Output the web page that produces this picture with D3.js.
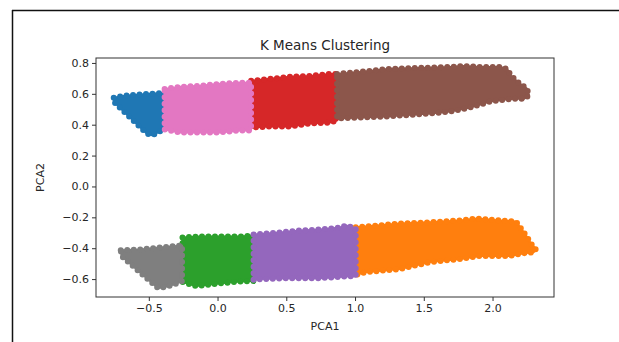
<!DOCTYPE html>
<html><head><meta charset="utf-8">
<script src="https://cdn.jsdelivr.net/npm/d3@7"></script>
<style>body{margin:0;background:#fff}svg{display:block}text{font-family:"DejaVu Sans",sans-serif;fill:#262626}</style>
</head><body><svg id="c" width="619" height="342"></svg>
<script>
const title = "K Means Clustering";
const xLabel = "PCA1", yLabel = "PCA2";
const xTicks = [-0.5, 0.0, 0.5, 1.0, 1.5, 2.0];
const yTicks = [-0.6, -0.4, -0.2, 0.0, 0.2, 0.4, 0.6, 0.8];
const clusterColors = ["#1f77b4","#ff7f0e","#2ca02c","#d62728","#9467bd","#8c564b","#e377c2","#7f7f7f"];
// cluster outlines (PCA1, PCA2)
const blueOutline = [[-0.755,0.575],[-0.673,0.588],[-0.491,0.600],[-0.385,0.606],[-0.382,0.462],[-0.392,0.382],[-0.420,0.356],[-0.476,0.332],[-0.515,0.343],[-0.745,0.540]];
const orangeOutline = [[1.005,-0.265],[1.182,-0.252],[1.327,-0.240],[1.545,-0.232],[1.764,-0.220],[1.887,-0.208],[2.055,-0.220],[2.170,-0.227],[2.205,-0.270],[2.250,-0.326],[2.280,-0.371],[2.315,-0.404],[2.300,-0.426],[2.230,-0.432],[2.127,-0.450],[1.909,-0.450],[1.764,-0.470],[1.545,-0.490],[1.327,-0.535],[1.073,-0.555],[1.005,-0.574]];
const greenOutline = [[-0.255,-0.330],[-0.127,-0.324],[0.018,-0.324],[0.164,-0.324],[0.262,-0.317],[0.262,-0.613],[0.236,-0.613],[0.113,-0.619],[-0.018,-0.632],[-0.156,-0.645],[-0.255,-0.619]];
const redOutline = [[0.244,0.684],[0.382,0.697],[0.527,0.710],[0.673,0.716],[0.818,0.729],[0.869,0.729],[0.869,0.427],[0.818,0.414],[0.673,0.408],[0.527,0.388],[0.382,0.388],[0.244,0.382]];
const purpleOutline = [[0.262,-0.311],[0.455,-0.298],[0.600,-0.285],[0.745,-0.279],[0.891,-0.266],[0.935,-0.253],[1.005,-0.272],[1.005,-0.581],[0.964,-0.581],[0.745,-0.594],[0.527,-0.594],[0.309,-0.600],[0.262,-0.606]];
const brownOutline = [[0.869,0.729],[1.036,0.742],[1.255,0.762],[1.473,0.768],[1.691,0.774],[1.785,0.780],[1.909,0.774],[2.055,0.774],[2.105,0.762],[2.135,0.716],[2.190,0.672],[2.250,0.634],[2.265,0.591],[2.230,0.568],[2.164,0.568],[2.091,0.563],[1.982,0.550],[1.836,0.511],[1.691,0.485],[1.545,0.472],[1.327,0.459],[1.233,0.453],[1.036,0.447],[0.869,0.440]];
const pinkOutline = [[-0.385,0.632],[-0.273,0.645],[-0.127,0.652],[0.018,0.665],[0.164,0.671],[0.244,0.671],[0.244,0.363],[0.164,0.363],[0.018,0.350],[-0.127,0.350],[-0.273,0.350],[-0.385,0.369]];
const grayOutline = [[-0.704,-0.413],[-0.564,-0.408],[-0.418,-0.395],[-0.258,-0.382],[-0.258,-0.613],[-0.309,-0.632],[-0.382,-0.651],[-0.433,-0.658],[-0.697,-0.452]];
const outlines = [blueOutline, orangeOutline, greenOutline, redOutline, purpleOutline, brownOutline, pinkOutline, grayOutline];

const svg = d3.select("#c");
const L = 96, R = 554, T = 58, B = 297;
const x = d3.scaleLinear().domain([-0.884, 2.447]).range([L, R]);
const y = d3.scaleLinear().domain([-0.716, 0.832]).range([B, T]);

// outer frame
svg.append("line").attr("x1",12).attr("x2",619).attr("y1",10.5).attr("y2",10.5).attr("stroke","#111").attr("stroke-width",1.5);
svg.append("line").attr("x1",12.5).attr("x2",12.5).attr("y1",10).attr("y2",342).attr("stroke","#111").attr("stroke-width",1.5);

const line = d3.line().x(d=>x(d[0])).y(d=>y(d[1])).curve(d3.curveLinearClosed);
const g = svg.append("g");
outlines.forEach((o,i)=>{
  g.append("path").attr("d", line(o)).attr("fill", clusterColors[i]).attr("stroke", clusterColors[i])
   .attr("stroke-width", 2).attr("stroke-linejoin","round");
  g.append("path").attr("d", line(o)).attr("fill", "none").attr("stroke", clusterColors[i])
   .attr("stroke-width", 6).attr("stroke-linecap","round").attr("stroke-dasharray","0 6.5");
});

// axes
const xAxis = d3.axisBottom(x).tickValues(xTicks).tickSize(4).tickPadding(3).tickFormat(d3.format(".1f"));
const yAxis = d3.axisLeft(y).tickValues(yTicks).tickSize(4).tickPadding(3).tickFormat(d3.format(".1f"));
const gx = svg.append("g").attr("transform",`translate(0,${B})`).call(xAxis);
const gy = svg.append("g").attr("transform",`translate(${L},0)`).call(yAxis);
[gx,gy].forEach(a=>{a.select(".domain").remove();a.selectAll("line").attr("stroke","#333");a.selectAll("text").attr("font-size",11).attr("font-family","DejaVu Sans").attr("fill","#333");});
svg.append("rect").attr("x",L).attr("y",T).attr("width",R-L).attr("height",B-T).attr("fill","none").attr("stroke","#333").attr("stroke-width",1);

svg.append("text").attr("x",(L+R)/2).attr("y",50).attr("text-anchor","middle").attr("font-size",13.5).text(title);
svg.append("text").attr("x",(L+R)/2).attr("y",330).attr("text-anchor","middle").attr("font-size",11).text(xLabel);
svg.append("text").attr("transform",`translate(44,${(T+B)/2}) rotate(-90)`).attr("text-anchor","middle").attr("font-size",11).text(yLabel);
</script></body></html>
